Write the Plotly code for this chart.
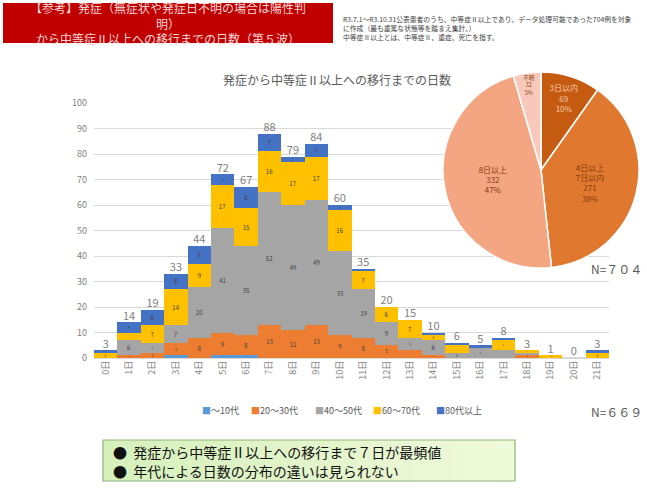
import plotly.graph_objects as go

# ---------------- data ----------------
days = list(range(22))
day_labels = [f"{d}日" for d in days]
age_groups = ["～10代", "20～30代", "40～50代", "60～70代", "80代以上"]
age_u10 = [0, 0, 0, 1, 0, 1, 1, 0, 0, 0, 0, 0, 0, 0, 0, 0, 0, 0, 0, 0, 0, 0]
age_20_30 = [0, 1, 2, 5, 8, 9, 8, 13, 11, 13, 9, 8, 5, 3, 1, 0, 0, 0, 1, 0, 0, 0]
age_40_50 = [0, 6, 4, 7, 20, 41, 35, 52, 49, 49, 33, 19, 9, 5, 6, 2, 4, 3, 1, 0, 0, 0]
age_60_70 = [2, 3, 7, 14, 9, 17, 15, 16, 17, 17, 16, 7, 6, 7, 2, 3, 0, 4, 1, 1, 0, 2]
age_80 = [1, 4, 6, 6, 7, 4, 8, 7, 2, 5, 2, 1, 0, 0, 1, 1, 1, 1, 0, 0, 0, 1]

pie_labels = ["3日以内", "4日以上<br>7日以内", "8日以上", "不明"]
pie_values = [69, 271, 332, 32]
pie_pct = ["10%", "38%", "47%", "5%"]

series = [age_u10, age_20_30, age_40_50, age_60_70, age_80]
colors = ["#5B9BD5", "#ED7D31", "#A5A5A5", "#FFC000", "#4472C4"]
totals = [sum(v) for v in zip(*series)]

W, H = 647, 488
def px(x):
    return x / W
def py(y):
    return 1 - y / H

FONT = "Noto Sans CJK JP"
fig = go.Figure()
for name, vals, col in zip(age_groups, series, colors):
    fig.add_trace(go.Bar(
        x=days, y=[v if v else None for v in vals], name=name,
        marker=dict(color=col, line=dict(width=0)),
        text=[str(v) if v else None for v in vals], textposition="inside",
        insidetextanchor="middle", textangle=0,
        textfont=dict(size=6, color="#404040"),
        hoverinfo="skip", showlegend=False,
    ))

fig.add_trace(go.Scatter(
    x=days, y=totals, mode="text", text=[str(t) for t in totals],
    textposition="top center", textfont=dict(size=11, color="#7F7F7F", family=FONT),
    showlegend=False, cliponaxis=False, hoverinfo="skip",
))

fig.add_trace(go.Pie(
    labels=pie_labels, values=pie_values, sort=False, direction="clockwise", rotation=0,
    customdata=pie_pct,
    texttemplate="%{label}<br>%{value}<br>%{customdata}",
    textposition="inside", insidetextorientation="horizontal",
    textfont=dict(size=8, color=["#F8CBAD", "#843C0C", "#843C0C", "#843C0C"]),
    marker=dict(colors=["#C55A11", "#E0782F", "#F4A582", "#F8C9BA"], line=dict(color="white", width=1.5)),
    domain=dict(x=[px(443), px(639)], y=[py(268), py(72)]),
    showlegend=False, hoverinfo="skip",
))

shapes = []
# header red box
shapes.append(dict(type="rect", xref="paper", yref="paper", x0=px(3), x1=px(333), y0=py(43), y1=py(3),
                   fillcolor="#C00000", line=dict(width=0), layer="below"))
# bottom gradient box
bx0, bx1, by0, by1 = 103, 515, 440, 481
n = 40
c0 = (214, 240, 188)
c1 = (240, 250, 218)
for i in range(n):
    t = i / (n - 1)
    c = tuple(int(round(c0[k] + (c1[k] - c0[k]) * t)) for k in range(3))
    shapes.append(dict(type="rect", xref="paper", yref="paper",
                       x0=px(bx0 + (bx1 - bx0) * i / n), x1=px(bx0 + (bx1 - bx0) * (i + 1) / n) + 0.001,
                       y0=py(by1), y1=py(by0), fillcolor="rgb(%d,%d,%d)" % c, line=dict(width=0), layer="below"))
shapes.append(dict(type="rect", xref="paper", yref="paper", x0=px(bx0), x1=px(bx1), y0=py(by1), y1=py(by0),
                   fillcolor="rgba(0,0,0,0)", line=dict(color="#8FB47A", width=1.2)))

ann = []
ann.append(dict(text="【参考】発症（無症状や発症日不明の場合は陽性判<br>明）<br>から中等症Ⅱ以上への移行までの日数（第５波）",
                x=px(168), y=py(23), xref="paper", yref="paper", showarrow=False,
                xanchor="center", yanchor="middle", align="center",
                font=dict(size=12, color="#F6D6D6", family=FONT)))
ann.append(dict(text="R3.7.1～R3.10.31公表患者のうち、中等症Ⅱ以上であり、データ処理可能であった704例を対象"
                     "<br>に作成（最も重篤な状態等を踏まえ集計。）<br>中等症Ⅱ以上とは、中等症Ⅱ、重症、死亡を指す。",
                x=px(341), y=py(28), xref="paper", yref="paper", showarrow=False,
                xanchor="left", yanchor="middle", align="left",
                font=dict(size=6.8, color="#404040", family=FONT)))
ann.append(dict(text="発症から中等症Ⅱ以上への移行までの日数", x=px(337), y=py(80), xref="paper", yref="paper",
                showarrow=False, xanchor="center", yanchor="middle",
                font=dict(size=12, color="#595959", family=FONT)))
ann.append(dict(text="N=７０４", x=px(644), y=py(268), xref="paper", yref="paper", showarrow=False,
                xanchor="right", yanchor="middle", font=dict(size=12, color="#595959", family=FONT)))
ann.append(dict(text="N=６６９", x=px(644), y=py(411), xref="paper", yref="paper", showarrow=False,
                xanchor="right", yanchor="middle", font=dict(size=12, color="#595959", family=FONT)))
box_font = dict(size=14, color="#111111", family=FONT)
for txt, y in [("●  発症から中等症Ⅱ以上への移行まで７日が最頻値", 451.5),
               ("●  年代による日数の分布の違いは見られない", 470.5)]:
    ann.append(dict(text=txt, x=px(111), y=py(y), xref="paper", yref="paper", showarrow=False,
                    xanchor="left", yanchor="middle", font=box_font))
# legend entries
for name, col, x in zip(age_groups, colors, [200, 249, 313, 371, 434]):
    ann.append(dict(text=f"<span style='color:{col}'>■</span>{name}", x=px(x), y=py(410),
                    xref="paper", yref="paper", showarrow=False, xanchor="left", yanchor="middle",
                    font=dict(size=9, color="#595959", family=FONT)))

fig.update_layout(
    width=W, height=H, margin=dict(l=0, r=0, t=0, b=0),
    paper_bgcolor="white", plot_bgcolor="white",
    barmode="stack", bargap=0,
    font=dict(family=FONT, color="#595959"),
    shapes=shapes, annotations=ann, showlegend=False,
    xaxis=dict(domain=[px(94), px(609)], range=[-0.5, 21.5], tickmode="array", tickvals=days,
               ticktext=day_labels, tickangle=-90, tickfont=dict(size=9, color="#7F7F7F"),
               showgrid=False, showline=False, zeroline=False, ticks="", automargin=False),
    yaxis=dict(domain=[py(358), py(103)], range=[0, 100], dtick=10, showgrid=True, gridcolor="#D9D9D9",
               gridwidth=1, zeroline=True, zerolinecolor="#D9D9D9", tickfont=dict(size=9, color="#7F7F7F"),
               ticks="", showline=False, automargin=False, ticklabelstandoff=6),
)

fig.write_html("out.html", config={"displayModeBar": False},
               post_script="document.body.style.margin='0';document.body.style.overflow='hidden';")
